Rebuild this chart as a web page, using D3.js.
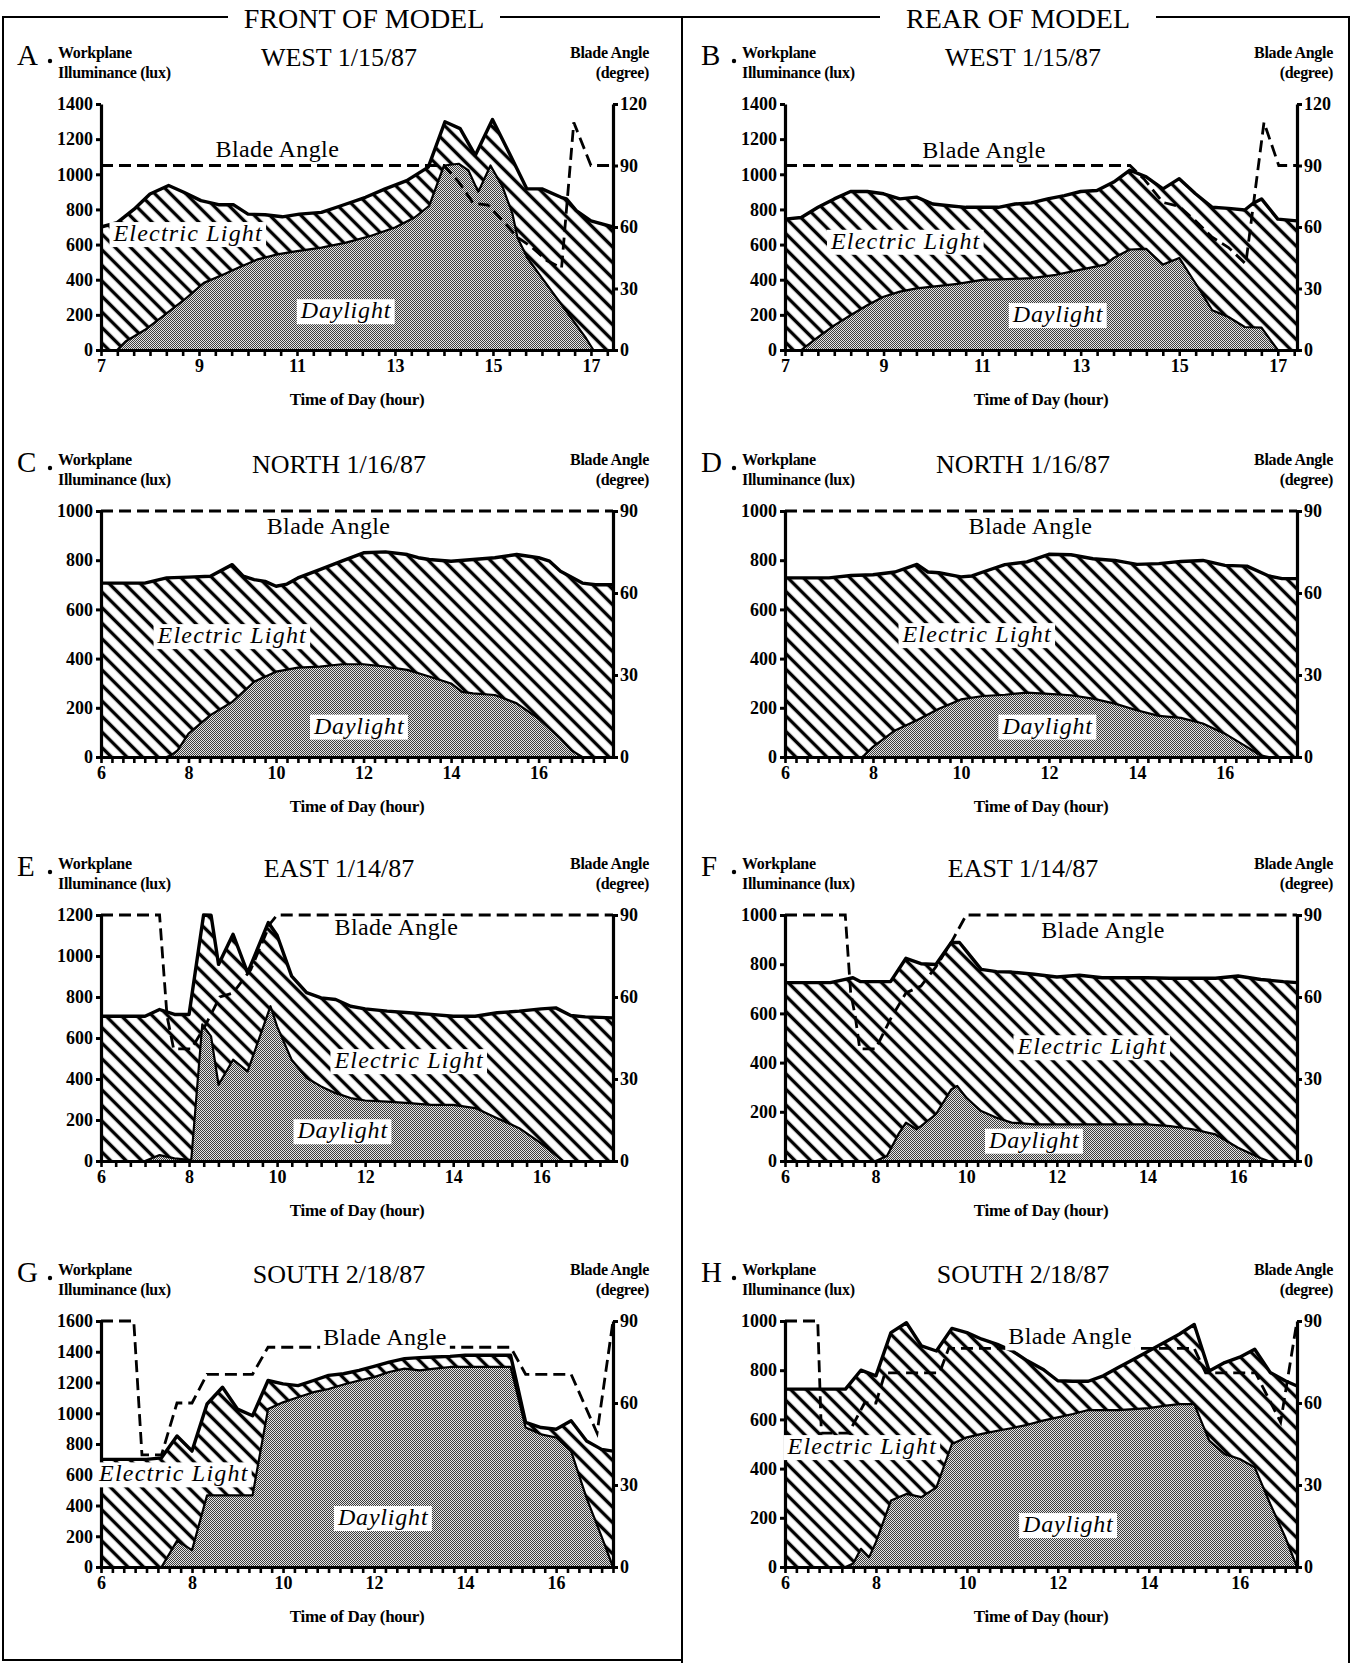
<!DOCTYPE html>
<html>
<head>
<meta charset="utf-8">
<script src="https://cdn.jsdelivr.net/npm/d3@7"></script>
<style>
  body { margin: 0; background: #fff; }
  svg text { font-family: "Liberation Serif", "Times New Roman", serif; }
</style>
</head>
<body>
<div id="chart"></div>
<script>
// DATA  (hour, value) pairs
////////////////////////////
// A - front, west
var aTotal = [[7,700],[7.33,725],[7.67,800],[8,888],[8.38,936],[8.69,898],[9.04,850],[9.4,827],[9.7,827],[10,773],[10.35,770],[10.7,758],[11.05,773],[11.5,783],[11.9,821],[12.4,869],[12.8,917],[13.24,964],[13.68,1041],[14.02,1299],[14.33,1260],[14.64,1108],[14.99,1312],[15.34,1117],[15.69,917],[16,917],[16.39,869],[16.5,860],[16.7,793],[17,735],[17.45,700]];
var aDay = [[7,0],[7.33,0],[7.5,48],[7.9,115],[8.3,200],[8.7,286],[9.1,382],[9.5,430],[9.8,468],[10.2,516],[10.6,544],[11,563],[11.5,583],[12,611],[12.5,649],[13,697],[13.4,754],[13.7,821],[14,1050],[14.3,1060],[14.5,1022],[14.7,900],[14.95,1050],[15.2,926],[15.4,773],[15.5,640],[15.7,525],[16,411],[16.3,296],[16.6,181],[16.9,67],[17.05,0],[17.45,0]];
var aBlade = [[7,90],[14,90],[14.3,82],[14.6,71.5],[14.9,70.7],[15.2,63],[15.5,55],[15.8,50],[16.1,43.6],[16.4,40],[16.65,111],[17,90],[17.45,90]];

// B - rear, west
var bTotal = [[7,745],[7.33,754],[7.67,812],[8,860],[8.33,902],[8.67,902],[9,889],[9.33,860],[9.67,870],[10,831],[10.33,821],[10.67,812],[11,812],[11.33,812],[11.67,831],[12,837],[12.33,860],[12.67,879],[13,902],[13.33,908],[13.67,956],[14,1023],[14.33,985],[14.67,917],[15,975],[15.33,889],[15.67,812],[16,806],[16.33,797],[16.5,835],[16.67,860],[17,745],[17.39,735]];
var bDay = [[7,0],[7.33,0],[7.67,73],[8,140],[8.33,198],[8.67,255],[9,303],[9.33,332],[9.67,351],[10,361],[10.5,376],[11,399],[11.5,403],[12,409],[12.5,428],[13,457],[13.5,486],[13.67,524],[14,572],[14.33,576],[14.67,486],[15,524],[15.33,380],[15.67,226],[16,188],[16.33,131],[16.67,127],[17,0],[17.39,0]];
var bBlade = [[7,90],[14,90],[14.3,83],[14.67,72],[15,70],[15.33,63],[15.67,55],[16,50],[16.35,42],[16.72,111],[17.02,90],[17.39,90]];

// C - front, north
var cTotal = [[6,707],[6.5,707],[7,707],[7.5,728],[8,731],[8.5,735],[9,782],[9.25,735],[9.5,721],[9.75,714],[10,694],[10.25,703],[10.5,728],[11,762],[11.5,796],[12,830],[12.5,834],[13,823],[13.25,810],[13.5,803],[14,796],[14.5,803],[15,810],[15.5,823],[16,810],[16.25,796],[16.5,755],[17,707],[17.3,700],[17.7,700]];
var cDay = [[6,0],[7.5,0],[7.6,7],[7.75,27],[8,95],[8.5,170],[8.75,197],[9,224],[9.25,265],[9.5,306],[10,347],[10.5,363],[11,367],[11.5,377],[12,377],[12.5,367],[13,354],[13.5,327],[14,299],[14.25,265],[14.5,259],[15,252],[15.5,218],[16,156],[16.5,75],[16.75,27],[17,0],[17.7,0]];
var cBlade = [[6,90],[17.7,90]];

// D - rear, north
var dTotal = [[6,728],[6.5,728],[7,728],[7.5,738],[8,741],[8.5,752],[9,783],[9.25,752],[9.5,749],[10,732],[10.25,736],[10.5,752],[11,782],[11.5,793],[12,824],[12.5,822],[13,806],[13.5,799],[14,783],[14.5,786],[15,795],[15.5,799],[16,779],[16.5,776],[17,736],[17.3,725],[17.64,725]];
var dDay = [[6,0],[7.75,0],[7.8,7],[8,41],[8.5,108],[9,149],[9.5,196],[10,234],[10.5,248],[11,253],[11.5,262],[12,257],[12.5,251],[13,237],[13.5,217],[14,190],[14.5,167],[15,159],[15.5,136],[16,95],[16.5,41],[16.8,7],[17,0],[17.64,0]];
var dBlade = [[6,90],[17.64,90]];

// E - front, east
var eTotal = [[6,706],[6.5,706],[7,706],[7.33,739],[7.67,715],[8,715],[8.33,1200],[8.5,1199],[8.67,959],[9,1106],[9.33,918],[9.8,1163],[10,1101],[10.33,902],[10.67,821],[11,796],[11.33,788],[11.67,755],[12,742],[12.5,731],[13,723],[13.5,715],[14,706],[14.5,706],[15,723],[15.5,731],[16,742],[16.33,747],[16.67,710],[17,703],[17.63,698]];
var eDay = [[6,0],[7,0],[7.33,29],[7.67,13],[8.05,5],[8.3,666],[8.5,608],[8.67,372],[9,494],[9.33,437],[9.85,755],[10,657],[10.33,494],[10.67,405],[11,364],[11.33,331],[11.67,307],[12,295],[12.5,290],[13,282],[13.5,274],[14,274],[14.5,258],[15,209],[15.5,160],[16,86],[16.33,29],[16.5,0],[17.63,0]];
var eBlade = [[6,90],[7.33,90],[7.5,53],[7.65,41],[8.05,41],[8.35,49],[8.7,60],[9,61.5],[9.4,70],[9.85,87],[10,90],[17.63,90]];

// F - rear, east
var fTotal = [[6,725],[7,725],[7.33,738],[7.5,745],[7.67,729],[8,729],[8.33,729],[8.67,824],[9,802],[9.33,799],[9.67,888],[9.85,888],[10,854],[10.33,779],[10.67,770],[11,768],[11.5,759],[12,748],[12.5,755],[13,745],[13.5,745],[14,745],[14.5,743],[15,743],[15.5,743],[16,752],[16.5,738],[17,729],[17.3,725]];
var fDay = [[6,0],[8,0],[8.25,20],[8.5,108],[8.67,156],[8.9,129],[9,142],[9.33,190],[9.67,291],[9.8,305],[10,257],[10.33,203],[10.67,176],[11,156],[11.5,149],[12,149],[12.5,149],[13,149],[13.5,149],[14,149],[14.5,142],[15,129],[15.5,108],[16,54],[16.5,11],[16.67,0],[17.3,0]];
var fBlade = [[6,90],[7.33,90],[7.45,61.5],[7.55,53],[7.65,41],[8,41],[8.33,52],[8.67,61.5],[9,64],[9.33,71],[9.67,80],[10,90],[17.3,90]];

// G - front, south
var gTotal = [[6,700],[7,700],[7.33,710],[7.67,852],[8,754],[8.33,1060],[8.67,1169],[9,1027],[9.33,984],[9.67,1213],[10,1191],[10.33,1180],[10.67,1213],[11,1246],[11.33,1257],[11.67,1279],[12,1305],[12.33,1333],[12.67,1355],[13,1362],[13.33,1366],[13.67,1370],[14,1377],[14.33,1377],[14.67,1377],[15,1377],[15.33,940],[15.67,907],[16,896],[16.33,951],[16.67,820],[17,765],[17.25,754]];
var gDay = [[6,0],[7.33,0],[7.67,170],[8,110],[8.33,466],[9.33,466],[9.67,1027],[10,1071],[10.33,1104],[10.67,1137],[11,1158],[11.33,1187],[11.67,1213],[12,1235],[12.33,1268],[12.67,1290],[13,1279],[13.33,1290],[13.67,1301],[14,1301],[14.33,1301],[14.67,1301],[15,1301],[15.33,907],[15.67,863],[16,842],[16.33,754],[16.67,448],[17,197],[17.25,0]];
var gBlade = [[6,90],[6.72,90],[6.9,41],[7.33,41],[7.67,60],[8,60],[8.33,70.5],[9.33,70.5],[9.67,80.4],[15,80.4],[15.33,70.5],[16.33,70.5],[16.9,49],[17.25,90]];

// H - rear, south
var hTotal = [[6,723],[7.33,723],[7.67,800],[8,777],[8.33,953],[8.67,993],[9,899],[9.33,878],[9.67,970],[10,953],[10.33,926],[10.67,905],[11,878],[11.33,838],[11.67,804],[12,757],[12.33,755],[12.67,755],[13,777],[13.33,811],[13.67,845],[14,878],[14.33,912],[14.67,946],[15,986],[15.33,797],[15.67,831],[16,853],[16.33,885],[16.67,791],[17,757],[17.26,736]];
var hDay = [[6,0],[7.33,0],[7.5,14],[7.67,74],[7.85,40],[8,101],[8.33,270],[8.67,297],[9,284],[9.33,324],[9.67,500],[10,527],[10.33,541],[10.67,554],[11,565],[11.33,578],[11.67,595],[12,608],[12.33,622],[12.67,638],[13,638],[13.33,638],[13.67,642],[14,646],[14.33,655],[14.67,662],[15,662],[15.33,514],[15.67,459],[16,439],[16.33,405],[16.67,257],[17,122],[17.26,0]];
var hBlade = [[6,90],[6.72,90],[6.8,49],[7.4,49],[7.75,60],[8,60],[8.2,71],[9.4,71],[9.6,80],[15,80],[15.25,71],[16.35,71],[16.9,53],[17.26,90]];

// tick values
var luxTicks1400 = [0,200,400,600,800,1000,1200,1400];
var luxTicks1000 = [0,200,400,600,800,1000];
var luxTicks1200 = [0,200,400,600,800,1000,1200];
var luxTicks1600 = [0,200,400,600,800,1000,1200,1400,1600];
var angleTicks120 = [0,30,60,90,120];
var angleTicks90 = [0,30,60,90];
var hourLabelsOdd = [7,9,11,13,15,17];
var hourLabelsEven = [6,8,10,12,14,16];

// panel setup (lbl = where the in-plot labels sit, in data units)
var panels = [
  {id:"A", col:0, row:0, title:"WEST 1/15/87", x0:7, x1:17.45, step:1/3, hours:hourLabelsOdd, yMax:1400, yTicks:luxTicks1400, bMax:120, bTicks:angleTicks120,
   total:aTotal, day:aDay, blade:aBlade, lbl:{blade:[10.6,1098], elec:[8.78,620], day:[12.0,181]}},
  {id:"B", col:1, row:0, title:"WEST 1/15/87", x0:7, x1:17.39, step:1/3, hours:hourLabelsOdd, yMax:1400, yTicks:luxTicks1400, bMax:120, bTicks:angleTicks120,
   total:bTotal, day:bDay, blade:bBlade, lbl:{blade:[11.04,1090], elec:[9.45,576], day:[12.54,159]}},
  {id:"C", col:0, row:1, title:"NORTH 1/16/87", x0:6, x1:17.7, step:0.25, hours:hourLabelsEven, yMax:1000, yTicks:luxTicks1000, bMax:90, bTicks:angleTicks90,
   total:cTotal, day:cDay, blade:cBlade, lbl:{blade:[11.2,905], elec:[9.0,463], day:[11.9,95]}},
  {id:"D", col:1, row:1, title:"NORTH 1/16/87", x0:6, x1:17.64, step:0.25, hours:hourLabelsEven, yMax:1000, yTicks:luxTicks1000, bMax:90, bTicks:angleTicks90,
   total:dTotal, day:dDay, blade:dBlade, lbl:{blade:[11.58,908], elec:[10.37,467], day:[11.97,95]}},
  {id:"E", col:0, row:2, title:"EAST 1/14/87", x0:6, x1:17.63, step:1/3, hours:hourLabelsEven, yMax:1200, yTicks:luxTicks1200, bMax:90, bTicks:angleTicks90,
   total:eTotal, day:eDay, blade:eBlade, lbl:{blade:[12.71,1101], elec:[13.0,453], day:[11.49,111]}},
  {id:"F", col:1, row:2, title:"EAST 1/14/87", x0:6, x1:17.3, step:0.25, hours:hourLabelsEven, yMax:1000, yTicks:luxTicks1000, bMax:90, bTicks:angleTicks90,
   total:fTotal, day:fDay, blade:fBlade, lbl:{blade:[13.02,908], elec:[12.78,434], day:[11.5,54]}},
  {id:"G", col:0, row:3, title:"SOUTH 2/18/87", x0:6, x1:17.25, step:0.25, hours:hourLabelsEven, yMax:1600, yTicks:luxTicks1600, bMax:90, bTicks:angleTicks90,
   total:gTotal, day:gDay, blade:gBlade, lbl:{blade:[12.24,1443], elec:[7.6,557], day:[12.2,273]}},
  {id:"H", col:1, row:3, title:"SOUTH 2/18/87", x0:6, x1:17.26, step:0.25, hours:hourLabelsEven, yMax:1000, yTicks:luxTicks1000, bMax:90, bTicks:angleTicks90,
   total:hTotal, day:hDay, blade:hBlade, lbl:{blade:[12.27,905], elec:[7.7,459], day:[12.23,142]}}
];

// LAYOUT
////////////////////////////
var width = 1352, height = 1663;
var W = 512, H = 246;
var colL = [101, 785];
var rowT = [104, 511, 915, 1321];

var svg = d3.select("#chart").append("svg")
  .attr("width", width)
  .attr("height", height);

var defs = svg.append("defs");

// diagonal hatch for electric light
var hatch = defs.append("pattern")
  .attr("id", "hatch")
  .attr("patternUnits", "userSpaceOnUse")
  .attr("width", 11).attr("height", 11)
  .attr("patternTransform", "rotate(-45)");
hatch.append("rect").attr("width", 11).attr("height", 11).attr("fill", "#fff");
hatch.append("line")
  .attr("x1", 5.5).attr("y1", -1).attr("x2", 5.5).attr("y2", 12)
  .attr("stroke", "#000").attr("stroke-width", 3.4);

// stipple (screen) for daylight
var dots = defs.append("pattern")
  .attr("id", "dots")
  .attr("patternUnits", "userSpaceOnUse")
  .attr("width", 2).attr("height", 2);
dots.append("rect").attr("width", 2).attr("height", 2).attr("fill", "#e4e4e4");
dots.append("rect").attr("x", 0).attr("y", 0).attr("width", 1).attr("height", 1).attr("fill", "#3c3c3c");
dots.append("rect").attr("x", 1).attr("y", 1).attr("width", 1).attr("height", 1).attr("fill", "#3c3c3c");

// FRAME + column headers
////////////////////////////
var frame = svg.append("g").attr("stroke", "#000").attr("stroke-width", 2).attr("fill", "none");
frame.append("path").attr("d", "M3,1661 V17 H228");
frame.append("path").attr("d", "M500,17 H880");
frame.append("path").attr("d", "M1156,17 H1349 V1663");
frame.append("path").attr("d", "M682,17 V1663");
frame.append("path").attr("d", "M3,1660 H682");

// (the scan crops the tops of these; kept just inside the page here)
svg.append("text").attr("x", 364).attr("y", 28).attr("text-anchor", "middle")
  .attr("font-size", 28).text("FRONT OF MODEL");
svg.append("text").attr("x", 1018).attr("y", 28).attr("text-anchor", "middle")
  .attr("font-size", 28).text("REAR OF MODEL");

// helper: text with a white box behind it
function boxedText(g, x, y, str, size, italic, spacing) {
  var lg = g.append("g");
  var rect = lg.append("rect").attr("fill", "#fff");
  var t = lg.append("text")
    .attr("x", x).attr("y", y)
    .attr("text-anchor", "middle")
    .attr("font-size", size)
    .attr("font-style", italic ? "italic" : "normal")
    .attr("letter-spacing", spacing)
    .text(str);
  var bb = t.node().getBBox();
  rect.attr("x", bb.x - 3).attr("y", bb.y + 2)
    .attr("width", bb.width + 6).attr("height", bb.height - 1);
}

// PANELS
////////////////////////////
panels.forEach(function(p) {
  var L = colL[p.col], T = rowT[p.row], R = L + W, B = T + H;

  var x = d3.scaleLinear().domain([p.x0, p.x1]).range([L, R]);
  var y = d3.scaleLinear().domain([0, p.yMax]).range([B, T]);
  var yb = d3.scaleLinear().domain([0, p.bMax]).range([B, T]);

  var g = svg.append("g").attr("class", "panel " + p.id);

  var area = d3.area().x(function(d) { return x(d[0]); }).y0(B).y1(function(d) { return y(d[1]); });
  var line = d3.line().x(function(d) { return x(d[0]); }).y(function(d) { return y(d[1]); });
  var bladeLine = d3.line().x(function(d) { return x(d[0]); }).y(function(d) { return yb(d[1]); });

  // electric light = everything under total, daylight drawn on top
  g.append("path").datum(p.total).attr("d", area).attr("fill", "url(#hatch)");
  g.append("path").datum(p.day).attr("d", area).attr("fill", "url(#dots)");
  g.append("path").datum(p.day).attr("d", line)
    .attr("fill", "none").attr("stroke", "#000").attr("stroke-width", 2.2).attr("stroke-linejoin", "round");
  g.append("path").datum(p.total).attr("d", line)
    .attr("fill", "none").attr("stroke", "#000").attr("stroke-width", 3.4).attr("stroke-linejoin", "round");

  // blade angle (right axis)
  g.append("path").datum(p.blade).attr("d", bladeLine)
    .attr("fill", "none").attr("stroke", "#000").attr("stroke-width", 2.8)
    .attr("stroke-dasharray", "12,6");

  // axes
  var minor = [];
  for (var i = 0; p.x0 + i * p.step <= p.x1 + 1e-6; i++) minor.push(p.x0 + i * p.step);

  var xAxis = g.append("g").attr("transform", "translate(0," + B + ")")
    .call(d3.axisBottom(x).tickValues(minor).tickSize(6).tickSizeOuter(0).tickPadding(3)
      .tickFormat(function(d) {
        var r = Math.round(d);
        return (Math.abs(d - r) < 1e-6 && p.hours.indexOf(r) >= 0) ? r : "";
      }));

  var yAxis = g.append("g").attr("transform", "translate(" + L + ",0)")
    .call(d3.axisLeft(y).tickValues(p.yTicks).tickSize(5).tickSizeOuter(0).tickPadding(3)
      .tickFormat(d3.format("d")));

  var bAxis = g.append("g").attr("transform", "translate(" + R + ",0)")
    .call(d3.axisRight(yb).tickValues(p.bTicks).tickSize(5).tickSizeOuter(0).tickPadding(2)
      .tickFormat(d3.format("d")));

  [xAxis, yAxis, bAxis].forEach(function(a) {
    a.attr("font-family", null).attr("font-size", 18).attr("font-weight", "bold");
    a.select(".domain").attr("stroke-width", 3.2);
    a.selectAll(".tick line").attr("stroke-width", 3);
    a.selectAll(".tick text").attr("fill", "#000");
  });
  xAxis.selectAll(".tick line").attr("stroke-width", 2.6);

  // panel texts
  g.append("text").attr("x", L - 84).attr("y", T - 39).attr("font-size", 29).text(p.id);
  g.append("circle").attr("cx", L - 51).attr("cy", T - 43).attr("r", 2.2).attr("fill", "#000");
  g.append("text").attr("x", L - 43).attr("y", T - 46).attr("font-size", 16).attr("font-weight", "bold")
    .attr("letter-spacing", -0.3).text("Workplane");
  g.append("text").attr("x", L - 43).attr("y", T - 26).attr("font-size", 16).attr("font-weight", "bold")
    .attr("letter-spacing", -0.3).text("Illuminance (lux)");
  g.append("text").attr("x", L + 238).attr("y", T - 38).attr("text-anchor", "middle")
    .attr("font-size", 26).text(p.title);
  g.append("text").attr("x", R + 36).attr("y", T - 46).attr("text-anchor", "end")
    .attr("font-size", 16).attr("font-weight", "bold").attr("letter-spacing", -0.3).text("Blade Angle");
  g.append("text").attr("x", R + 36).attr("y", T - 26).attr("text-anchor", "end")
    .attr("font-size", 16).attr("font-weight", "bold").attr("letter-spacing", -0.3).text("(degree)");
  g.append("text").attr("x", L + W / 2).attr("y", B + 55).attr("text-anchor", "middle")
    .attr("font-size", 17).attr("font-weight", "bold").attr("letter-spacing", -0.3).text("Time of Day (hour)");

  // in-plot labels
  boxedText(g, x(p.lbl.blade[0]), y(p.lbl.blade[1]), "Blade Angle", 24, false, 0.4);
  boxedText(g, x(p.lbl.elec[0]), y(p.lbl.elec[1]), "Electric Light", 24, true, 1.2);
  boxedText(g, x(p.lbl.day[0]), y(p.lbl.day[1]), "Daylight", 24, true, 0.8);
});
</script>
</body>
</html>
